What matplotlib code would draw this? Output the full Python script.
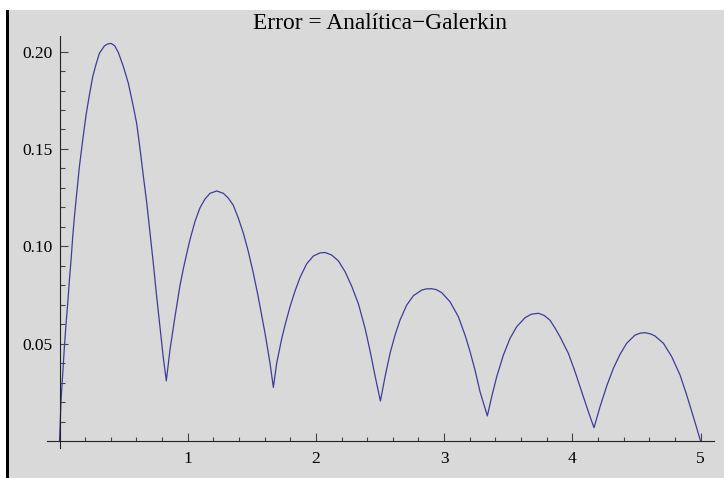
import matplotlib
matplotlib.use("Agg")
import matplotlib.pyplot as plt
from matplotlib.patches import Rectangle
from matplotlib.ticker import FixedLocator

# valores: x, error
x = [0.0, 0.012, 0.025, 0.038, 0.051, 0.064, 0.077, 0.090, 0.103, 0.116, 0.129,
     0.142, 0.155, 0.181, 0.207, 0.233, 0.259, 0.285, 0.311, 0.350, 0.375, 0.402,
     0.430, 0.459, 0.498, 0.537, 0.576, 0.602, 0.628, 0.654, 0.680, 0.706, 0.732,
     0.758, 0.784, 0.810, 0.833,
     0.862, 0.901, 0.940, 0.966, 0.992, 1.018, 1.057, 1.096, 1.135, 1.174, 1.226,
     1.278, 1.317, 1.356, 1.395, 1.434, 1.473, 1.512, 1.547, 1.564, 1.603, 1.642, 1.668,
     1.694, 1.733, 1.759, 1.798, 1.837, 1.876, 1.928, 1.980, 2.032, 2.071, 2.123,
     2.175, 2.227, 2.279, 2.331, 2.383, 2.422, 2.461, 2.503,
     2.539, 2.578, 2.617, 2.656, 2.708, 2.760, 2.825, 2.860, 2.903, 2.940, 2.981,
     3.046, 3.111, 3.163, 3.202, 3.241, 3.280, 3.337,
     3.371, 3.410, 3.462, 3.514, 3.566, 3.631, 3.680, 3.735, 3.780, 3.826, 3.865,
     3.904, 3.969, 4.021, 4.073, 4.125, 4.169,
     4.216, 4.268, 4.320, 4.372, 4.424, 4.489, 4.530, 4.567, 4.610, 4.645, 4.710,
     4.775, 4.840, 4.892, 4.944, 5.0]
err = [0.0, 0.0209, 0.0346, 0.0483, 0.0603, 0.0706, 0.0826, 0.0929, 0.1049, 0.1150, 0.1237,
       0.1323, 0.1409, 0.1546, 0.1674, 0.1777, 0.1871, 0.1935, 0.1991, 0.2029, 0.2039, 0.2042,
       0.2030, 0.1995, 0.1923, 0.1837, 0.1717, 0.1630, 0.1500, 0.1360, 0.1225, 0.1070, 0.0910,
       0.0740, 0.0580, 0.0425, 0.0309,
       0.0470, 0.0640, 0.0800, 0.0885, 0.0962, 0.1035, 0.1128, 0.1198, 0.1243, 0.1272, 0.1284,
       0.1272, 0.1247, 0.1210, 0.1144, 0.1067, 0.0972, 0.0861, 0.0750, 0.0690, 0.0553, 0.0399, 0.0275,
       0.0400, 0.0525, 0.0595, 0.0690, 0.0770, 0.0840, 0.0910, 0.0950, 0.0966, 0.0968, 0.0955,
       0.0925, 0.0870, 0.0795, 0.0705, 0.0580, 0.0463, 0.0335, 0.0205,
       0.0330, 0.0450, 0.0544, 0.0621, 0.0698, 0.0746, 0.0775, 0.0781, 0.0782, 0.0777, 0.0762,
       0.0715, 0.0638, 0.0544, 0.0459, 0.0364, 0.0253, 0.0129,
       0.0227, 0.0330, 0.0441, 0.0527, 0.0587, 0.0633, 0.0651, 0.0656, 0.0645, 0.0620, 0.0580,
       0.0535, 0.0450, 0.0356, 0.0253, 0.0150, 0.0068,
       0.0176, 0.0282, 0.0373, 0.0445, 0.0502, 0.0544, 0.0554, 0.0556, 0.0550, 0.0539, 0.0502,
       0.0433, 0.0339, 0.0236, 0.0124, 0.0]

xticks = [1, 2, 3, 4, 5]
yticks = [0.05, 0.10, 0.15, 0.20]
titulo = "Error = Analítica\u2212Galerkin"

plt.rcParams['font.family'] = ['Liberation Serif', 'DejaVu Serif']
gris = '#d9d9d9'

fig = plt.figure(figsize=(7.24, 4.78), dpi=100, facecolor=gris)
# borde blanco y barra negra de la celda
fig.add_artist(Rectangle((0, 1 - 10/478), 1, 10/478, transform=fig.transFigure,
                         facecolor='white', edgecolor='none'))
fig.add_artist(Rectangle((0, 0), 6/724, 1, transform=fig.transFigure,
                         facecolor='white', edgecolor='none'))
fig.add_artist(Rectangle((6/724, 0), 2.5/724, 1 - 10/478, transform=fig.transFigure,
                         facecolor='black', edgecolor='none'))

ax = fig.add_axes([0.0645, 0.0628, 0.9217, 0.8619])
ax.set_facecolor(gris)
ax.plot(x, err, color='#3d3d99', lw=0.9)

ax.set_xlim(-0.1, 5.105)
ax.set_ylim(-0.0036, 0.208)
ax.spines['left'].set_position(('data', 0))
ax.spines['bottom'].set_position(('data', 0))
ax.spines['top'].set_visible(False)
ax.spines['right'].set_visible(False)
for s in ['left', 'bottom']:
    ax.spines[s].set_color('#222222')
    ax.spines[s].set_linewidth(0.8)

ax.xaxis.set_major_locator(FixedLocator(xticks))
ax.xaxis.set_minor_locator(FixedLocator([i/5 for i in range(1, 25) if i % 5]))
ax.yaxis.set_major_locator(FixedLocator(yticks))
ax.yaxis.set_minor_locator(FixedLocator([i/100 for i in range(1, 21) if i % 5]))
ax.set_xticklabels(['1', '2', '3', '4', '5'])
ax.set_yticklabels(['0.05', '0.10', '0.15', '0.20'])
ax.tick_params(which='both', direction='in', color='#444444', width=0.8,
               labelsize=12.5, labelcolor='black', pad=5)
ax.tick_params(axis='x', which='major', length=5.5, pad=7)
ax.tick_params(axis='x', which='minor', length=3)
ax.tick_params(axis='y', which='major', length=6)
ax.tick_params(axis='y', which='minor', length=3.3)

fig.text(0.525, 1 - 29/478, titulo, ha='center', va='baseline', fontsize=16.8)

fig.savefig('out.png', dpi=100, facecolor=gris)
